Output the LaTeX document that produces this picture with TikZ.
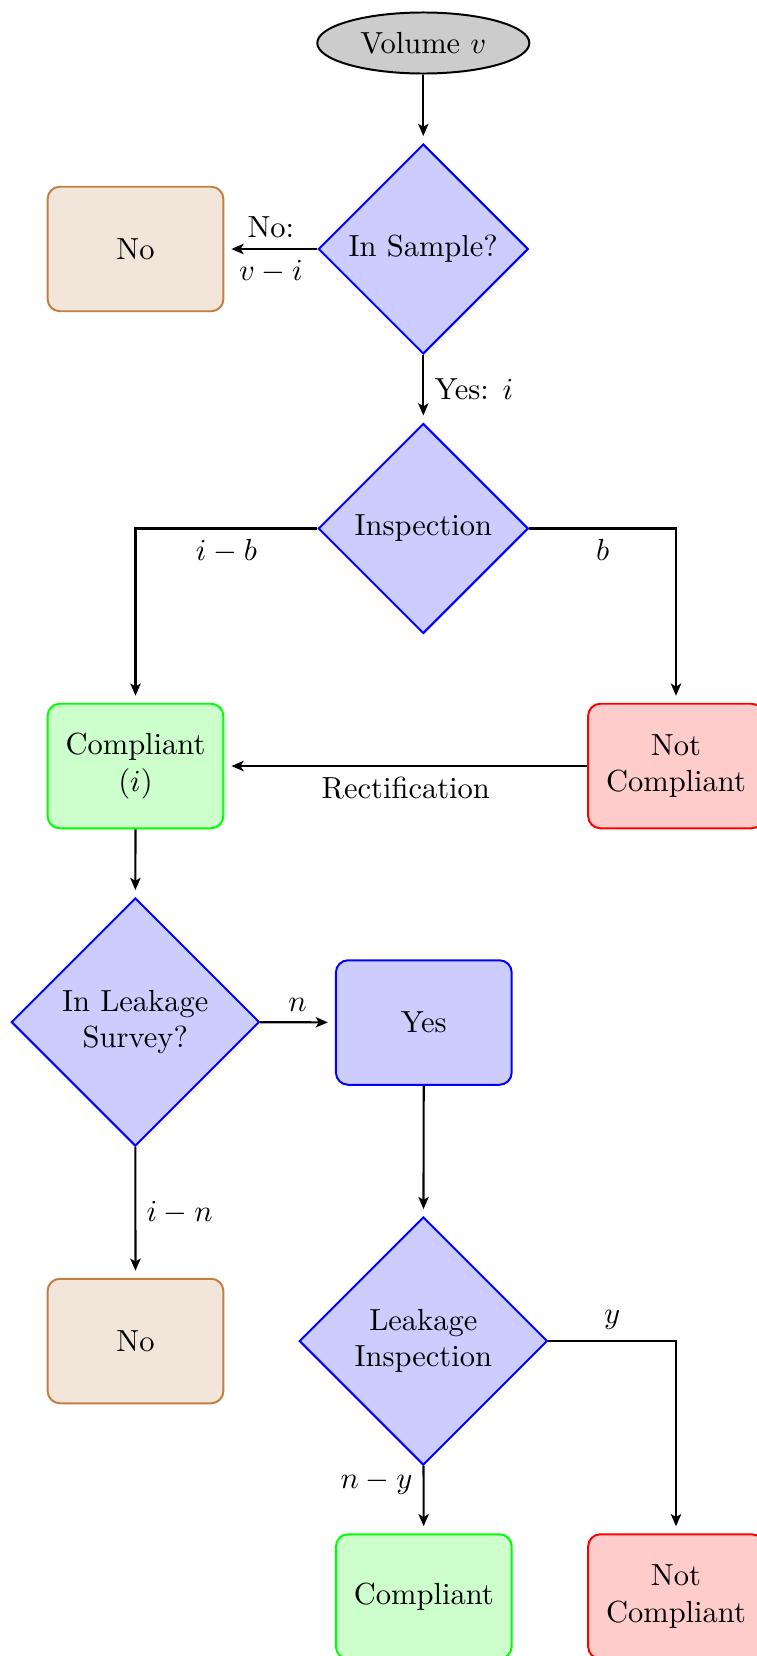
\documentclass[tikz,border=0pt]{standalone}
\usetikzlibrary{shapes.geometric,arrows.meta}
\begin{document}
\begin{tikzpicture}[x=0.3277pt,y=-0.3277pt,
  every node/.style={align=center},
  decision/.style={diamond, draw=blue, line width=0.65pt, fill=blue!20, inner sep=0pt, aspect=1},
  smalldec/.style={decision, minimum width=68.8pt, minimum height=68.8pt},
  bigdec/.style={decision, minimum width=81.3pt, minimum height=81.3pt},
  box/.style={rectangle, rounded corners=4pt, line width=0.65pt, minimum width=57.6pt, minimum height=40.8pt, inner sep=0pt},
  nobox/.style={box, draw=brown, fill=brown!20},
  okbox/.style={box, draw=green, fill=green!20},
  badbox/.style={box, draw=red, fill=red!20},
  yesbox/.style={box, draw=blue, fill=blue!20},
  startnode/.style={ellipse, draw=black, line width=0.65pt, fill=black!20, minimum width=69.5pt, minimum height=20pt, inner sep=0pt},
  link/.style={draw, line width=0.7pt, -{Stealth[length=4pt,width=3.4pt,inset=1pt]}, shorten >=2.3pt}
]
\useasboundingbox (0,0) rectangle (757,1656);

\node[startnode] (vol) at (423.3,43) {Volume $v$};
\node[smalldec] (sample) at (423.3,249) {In Sample?};
\node[nobox] (no1) at (135.5,249) {No};
\node[smalldec] (insp) at (423.3,528.5) {Inspection};
\node[okbox] (comp1) at (135.5,766) {Compliant\\($i$)};
\node[badbox] (notc1) at (676,766) {Not\\Compliant};
\node[bigdec] (leaks) at (135.3,1022) {In Leakage\\Survey?};
\node[yesbox] (yes) at (423.8,1022.5) {Yes};
\node[nobox] (no2) at (135.5,1341) {No};
\node[bigdec] (leaki) at (423.3,1341) {Leakage\\Inspection};
\node[okbox] (comp2) at (423.8,1596.5) {Compliant};
\node[badbox] (notc2) at (676,1596.5) {Not\\Compliant};

\draw[link] (vol) -- (sample);
\draw[link] (sample) -- node[above] (lno) {No:} node[below] (lvi) {$v-i$} (no1);
\draw[link] (sample) -- node[right] (lyes) {Yes: $i$} (insp);
\draw[link] (insp.west) -| node[pos=0.25,below] (lib) {$i-b$} (comp1.north);
\draw[link] (insp.east) -| node[pos=0.25,below] (lb) {$b$} (notc1.north);
\draw[link] (notc1) -- node[below] (lrect) {Rectification} (comp1);
\draw[link] (comp1) -- (leaks);
\draw[link] (leaks) -- node[above] (ln) {$n$} (yes);
\draw[link] (leaks) -- node[right] (lin) {$i-n$} (no2);
\draw[link] (yes) -- (leaki);
\draw[link] (leaki.east) -| node[pos=0.25,above] (ly) {$y$} (notc2.north);
\draw[link] (leaki) -- node[pos=0.25,left] (lny) {$n-y$} (comp2);
\end{tikzpicture}
\end{document}
